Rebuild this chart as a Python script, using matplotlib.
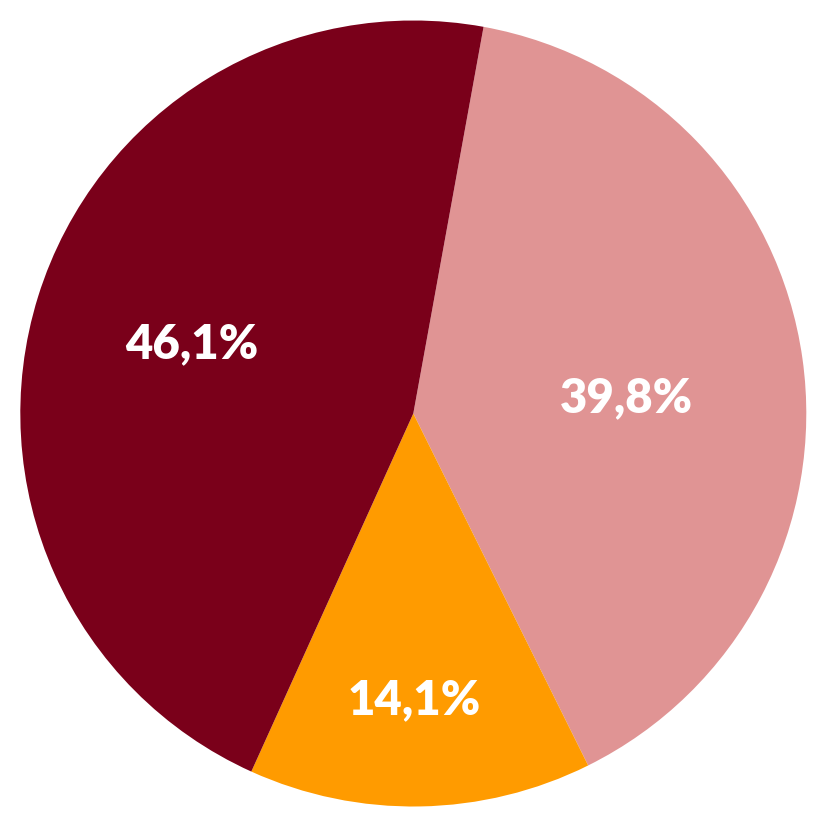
import matplotlib
matplotlib.use("Agg")
import matplotlib.pyplot as plt
import math

labels = ["39,8%", "14,1%", "46,1%"]
values = [39.8, 14.1, 46.1]
colors = ["#E09494", "#FF9B00", "#7A001A"]
label_dist = [0.545, 0.73, 0.59]
label_angle_shift = [-4.0, -0.8, 0.0]

fig = plt.figure(figsize=(8.27, 8.27), dpi=100)
ax = fig.add_axes([0, 0, 1, 1])
wedges, texts, autotexts = ax.pie(values, colors=colors, startangle=79.7, counterclock=False,
                                  autopct="%1.1f%%", pctdistance=0.6, radius=1.0,
                                  wedgeprops=dict(linewidth=0))
for w, t, lab, d, s in zip(wedges, autotexts, labels, label_dist, label_angle_shift):
    ang = math.radians((w.theta1 + w.theta2) / 2 + s)
    t.set_position((d * math.cos(ang), d * math.sin(ang)))
    t.set_text(lab)
    t.set_color("white")
    t.set_fontfamily("Lato")
    t.set_fontweight("heavy")
    t.set_fontsize(34)
    t.set_va("center")
    t.set_ha("center")
lim = 413.5 / 393
ax.set_xlim(-lim + 0.001, lim)
ax.set_ylim(-lim, lim)
ax.set_aspect("equal")
ax.axis("off")
fig.savefig("out.png", dpi=100)
